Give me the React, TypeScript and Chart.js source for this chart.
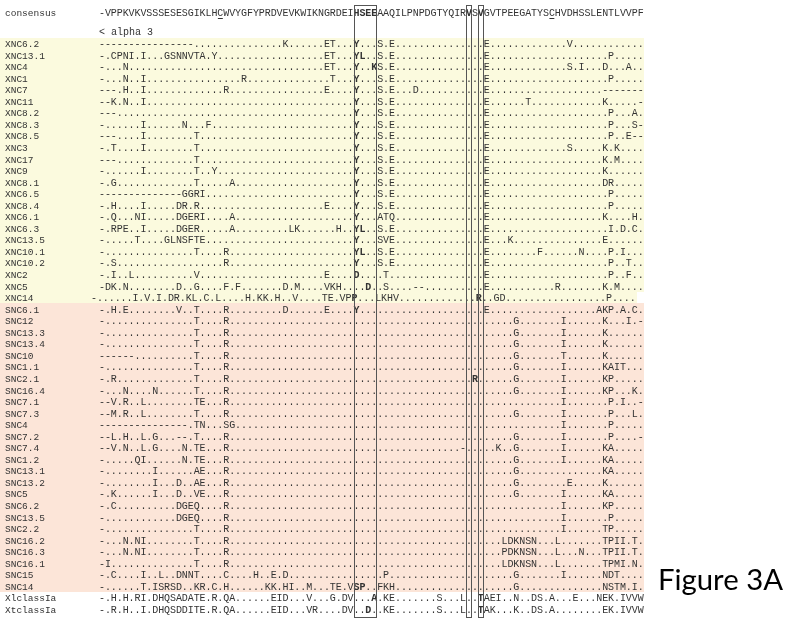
import React, { useEffect, useRef } from 'react';
import { Chart, registerables } from 'chart.js';

Chart.register(...registerables);

// ---------- data ----------
const CONSENSUS = '-VPPKVKVSSSESESGIKLHCWVYGFYPRDVEVKWIKNGRDEIHSEEAAQILPNPDGTYQIRVSVGVTPEEGATYSCHVDHSSLENTLVVPF';
const CONSENSUS_LABEL = 'consensus';
const HELIX_NOTE = '< alpha 3';
const FIGURE_TITLE = 'Figure 3A';
const SEQ_LEN = 92;

// sparse specs: "column:text" ; every other cell is "."
const XNC_NAMES = ['XNC6.2', 'XNC13.1', 'XNC4', 'XNC1', 'XNC7', 'XNC11', 'XNC8.2', 'XNC8.3', 'XNC8.5', 'XNC3', 'XNC17', 'XNC9', 'XNC8.1', 'XNC6.5', 'XNC8.4', 'XNC6.1', 'XNC6.3', 'XNC13.5', 'XNC10.1', 'XNC10.2', 'XNC2', 'XNC5', 'XNC14'];
const XNC_SEQS = [
  '0:---------------- 31:K 38:ET 43:Y 47:S.E 65:E 79:V',
  '0:-.CPNI.I...GSNNVTA.Y 38:ET 43:YL 47:S.E 65:E 86:P',
  '0:-...N 38:ET 43:Y..KS.E 65:E 79:S.I...D...A',
  '0:-...N..I 24:R 39:T 43:Y 47:S.E 65:E 86:P',
  '0:---.H..I 21:R 38:E 43:Y 47:S.E...D 65:E 85:-------',
  '0:--K.N..I 43:Y 47:S.E 65:E 72:T 85:K 91:-',
  '0:--- 43:Y 47:S.E 65:E 86:P...A',
  '0:-......I......N 18:F 43:Y 47:S.E 65:E 86:P...S-',
  '0:---....I 16:T 43:Y 47:S.E 65:E 86:P..E--',
  '0:-.T....I 16:T 43:Y 47:S.E 65:E 79:S 85:K.K',
  '0:--- 16:T 43:Y 47:S.E 65:E 85:K.M',
  '0:-......I 16:T..Y 43:Y 47:S.E 65:E 85:K',
  '0:-.G 16:T 22:A 43:Y 47:S.E 65:E 85:DR',
  '0:-------------- 14:GGRI 43:Y 47:S.E 65:E 86:P',
  '0:-.H....I.....DR.R 38:E 43:Y 47:S.E 65:E 86:P',
  '0:-.Q...NI.....DGERI 22:A 43:Y 47:ATQ 65:E 85:K 90:H',
  '0:-.RPE..I.....DGER 22:A 32:LK 40:H 43:YL 47:S.E 65:E 86:I.D.C',
  '0:-.....T....GLNSFTE 43:Y 47:SVE 65:E 69:K 85:E',
  '0:- 16:T 21:R 43:YL 47:S.E 65:E 74:F 81:N 86:P.I',
  '0:-.S 21:R 43:Y 47:S.E 65:E 86:P..T',
  '0:-.I..L 16:V 38:E 43:D 48:T 65:E 86:P..F',
  '0:-DK.N 13:D 16:G 21:F.F 31:D.M 38:VKH 45:D 48:S 53:-- 65:E 77:R 85:K.M',
  '0:-......I.V.I.DR.KL.C.L 26:H.KK.H..V 39:TE.VPP 48:LKHV 65:R 68:GD 87:P',
];

const SNC_NAMES = ['SNC6.1', 'SNC12', 'SNC13.3', 'SNC13.4', 'SNC10', 'SNC1.1', 'SNC2.1', 'SNC16.4', 'SNC7.1', 'SNC7.3', 'SNC4', 'SNC7.2', 'SNC7.4', 'SNC1.2', 'SNC13.1', 'SNC13.2', 'SNC5', 'SNC6.2', 'SNC13.5', 'SNC2.2', 'SNC16.2', 'SNC16.3', 'SNC16.1', 'SNC15', 'SNC14'];
const SNC_SEQS = [
  '0:-.H.E........V..T....R 31:D 38:E 43:Y 65:E 84:AKP.A.C',
  '0:- 16:T 21:R 70:G 78:I 85:K...I.-',
  '0:- 16:T 21:R 70:G 78:I 85:K',
  '0:- 16:T 21:R 70:G 78:I 85:K',
  '0:------ 16:T 21:R 70:G 78:T 85:K',
  '0:- 16:T 21:R 70:G 78:I 85:KAIT',
  '0:-.R 16:T 21:R 63:R 70:G 78:I 85:KP',
  '0:-...N....N 16:T 21:R 70:G 78:I 85:KP...K',
  '0:--V.R..L 16:TE 21:R 78:I 86:P.I..-',
  '0:--M.R..L 16:T 21:R 70:G 78:I 86:P...L',
  '0:--------------- 16:TN...SG 78:I 86:P',
  '0:--L.H..L.G...--.T 21:R 70:G 78:I 86:P 91:-',
  '0:--V.N..L.G....N.TE 21:R 61:- 67:K 70:G 78:I 85:KA',
  '0:-.....QI......N.TE 21:R 70:G 78:I 85:KA',
  '0:-........I......AE 21:R 70:G 85:KA',
  '0:-........I...D..AE 21:R 70:G 79:E 85:K',
  '0:-.K......I...D..VE 21:R 70:G 78:I 85:KA',
  '0:-.C..........DGEQ 21:R 78:I 85:KP',
  '0:- 13:DGEQ 21:R 78:I 86:P',
  '0:- 16:T 21:R 78:I 85:TP',
  '0:-...N.NI 16:T 21:R 68:LDKNSN...L 85:TPII.T',
  '0:-...N.NI 16:T 21:R 68:PDKNSN...L...N 85:TPII.T',
  '0:-I 16:T 21:R 68:LDKNSN...L 85:TPMI.N',
  '0:-.C....I..L..DNNT....C....H..E.D 48:P 70:G 78:I 85:NDT',
  '0:-......T.ISRSD..KR.C.H......KK.HI..M...TE.VSP..FKH 70:G 85:NSTM.I',
];

const CLASS1_NAMES = ['XlclassIa', 'XtclassIa'];
const CLASS1_SEQS = [
  '0:-.H.H.RI.DHQSADATE.R.QA......EID...V...G.DV...A.KE.......S 61:L..TAEI..N..DS.A...E...NEK.IVVW',
  '0:-.R.H..I.DHQSDDITE.R.QA......EID...VR....DV..D..KE.......S 61:L..TAK...K..DS.A 85:EK.IVVW',
];

// XNC14 is printed slightly left of the alignment grid in the source figure
const ROW_SHIFT: Record<string, number> = { XNC14: -1.35 };
const BOLD_COLS = [43, 44, 45, 46, 62, 63, 64];
const CONSENSUS_BOLD = [43, 44, 45, 46, 62, 64];
const CONSENSUS_UNDERLINE = [20, 76];
const BOXES = [[43, 47], [62, 63], [64, 65]];

// ---------- layout ----------
const W = 800;
const H = 618;
const COL0_PX = 99;
const COL_W = 5.92;
const ROW0_PX = 43.5;
const ROW_H = 11.55;
const X_MIN = -COL0_PX / COL_W;
const X_MAX = X_MIN + W / COL_W;
const Y_MIN = -ROW0_PX / ROW_H;
const Y_MAX = Y_MIN + H / ROW_H;
const CONSENSUS_ROW = -2.65;
const NOTE_ROW = -1;
const BAND_RIGHT = 92.05;
const BAND_RIGHT_SHORT = 90.9;
const BOX_TOP = -3.33;
const BOX_BOTTOM = 49.65;
const YELLOW = 'rgb(251,250,222)';
const PINK = 'rgb(252,229,216)';
const INK = '#333333';
const MONO = '"Liberation Mono", "DejaVu Sans Mono", monospace';

function expand(spec: string): string {
  const arr = new Array(SEQ_LEN).fill('.');
  spec.split(' ').forEach((part) => {
    const k = part.indexOf(':');
    const col = parseInt(part.slice(0, k), 10);
    const txt = part.slice(k + 1);
    for (let i = 0; i < txt.length; i++) arr[col + i] = txt[i];
  });
  return arr.join('');
}

type Row = { name: string; seq: string; color: string; shift: number };

const ROWS: Row[] = [
  ...XNC_NAMES.map((n, i) => ({ name: n, seq: expand(XNC_SEQS[i]), color: YELLOW, shift: ROW_SHIFT[n] || 0 })),
  ...SNC_NAMES.map((n, i) => ({ name: n, seq: expand(SNC_SEQS[i]), color: PINK, shift: ROW_SHIFT[n] || 0 })),
  ...CLASS1_NAMES.map((n, i) => ({ name: n, seq: expand(CLASS1_SEQS[i]), color: '', shift: 0 })),
];

const alignPlugin = {
  id: 'alignmentDrawing',
  beforeDraw(chart: any) {
    const ctx = chart.ctx as CanvasRenderingContext2D;
    const xs = chart.scales.x;
    const ys = chart.scales.y;
    ctx.save();
    ROWS.forEach((row, r) => {
      if (!row.color) return;
      const top = Math.round(ys.getPixelForValue(r - 0.5));
      const bot = Math.round(ys.getPixelForValue(r + 0.5));
      const right = Math.round(xs.getPixelForValue(row.shift ? BAND_RIGHT_SHORT : BAND_RIGHT));
      ctx.fillStyle = row.color;
      ctx.fillRect(0, top, right, bot - top);
    });
    ctx.restore();
  },
  afterDraw(chart: any) {
    const ctx = chart.ctx as CanvasRenderingContext2D;
    const xs = chart.scales.x;
    const ys = chart.scales.y;
    const labelX = 5;
    const base = 3.5;
    ctx.save();
    ctx.fillStyle = INK;
    ctx.textAlign = 'left';
    ctx.textBaseline = 'alphabetic';

    // consensus
    const cy = ys.getPixelForValue(CONSENSUS_ROW);
    ctx.font = `9.5px ${MONO}`;
    ctx.fillText(CONSENSUS_LABEL, labelX, cy + base);
    ctx.textAlign = 'center';
    for (let j = 0; j < CONSENSUS.length; j++) {
      const bold = CONSENSUS_BOLD.includes(j);
      ctx.font = `${bold ? 'bold ' : ''}10px ${MONO}`;
      ctx.fillText(CONSENSUS[j], xs.getPixelForValue(j + 0.5), cy + base);
    }
    ctx.strokeStyle = INK;
    ctx.lineWidth = 1;
    CONSENSUS_UNDERLINE.forEach((j) => {
      const l = xs.getPixelForValue(j) + 0.5;
      const rr = xs.getPixelForValue(j + 1) - 0.5;
      const uy = Math.round(cy + base + 1.5) + 0.5;
      ctx.beginPath();
      ctx.moveTo(l, uy);
      ctx.lineTo(rr, uy);
      ctx.stroke();
    });

    // alpha note
    ctx.textAlign = 'left';
    ctx.font = `10px ${MONO}`;
    ctx.fillText(HELIX_NOTE, xs.getPixelForValue(0), ys.getPixelForValue(NOTE_ROW) + base);

    // rows
    ROWS.forEach((row, r) => {
      const y = ys.getPixelForValue(r) + base;
      ctx.textAlign = 'left';
      ctx.font = `9.5px ${MONO}`;
      ctx.fillText(row.name, labelX, y);
      ctx.textAlign = 'center';
      for (let j = 0; j < row.seq.length; j++) {
        const ch = row.seq[j];
        const col = Math.round(j + row.shift);
        const bold = /[A-Z]/.test(ch) && BOLD_COLS.includes(col);
        ctx.font = `${bold ? 'bold ' : ''}10px ${MONO}`;
        ctx.fillText(ch, xs.getPixelForValue(j + row.shift + 0.5), y);
      }
    });

    // boxes
    ctx.strokeStyle = '#555555';
    ctx.lineWidth = 1;
    BOXES.forEach(([a, b]) => {
      const l = Math.round(xs.getPixelForValue(a)) + 0.5;
      const rr = Math.round(xs.getPixelForValue(b)) - 0.5;
      const t = Math.round(ys.getPixelForValue(BOX_TOP)) + 0.5;
      const bt = Math.round(ys.getPixelForValue(BOX_BOTTOM)) + 0.5;
      ctx.strokeRect(l, t, rr - l, bt - t);
    });

    // figure title
    ctx.textAlign = 'left';
    ctx.fillStyle = '#000000';
    ctx.font = '28px Lato, "Open Sans", sans-serif';
    const m = ctx.measureText(FIGURE_TITLE).width;
    const size = 28 * 125 / m;
    ctx.font = `${size.toFixed(2)}px Lato, "Open Sans", sans-serif`;
    ctx.fillText(FIGURE_TITLE, 658, 590);
    ctx.restore();
  },
};

export default function App() {
  const ref = useRef<HTMLCanvasElement>(null);
  useEffect(() => {
    const chart = new Chart(ref.current as HTMLCanvasElement, {
      type: 'scatter',
      data: { datasets: [{ data: [], pointRadius: 0 }] },
      options: {
        animation: false,
        responsive: false,
        devicePixelRatio: 1,
        events: [],
        layout: { padding: 0 },
        scales: {
          x: { type: 'linear', min: X_MIN, max: X_MAX, display: false },
          y: { type: 'linear', min: Y_MIN, max: Y_MAX, reverse: true, display: false },
        },
        plugins: { legend: { display: false }, tooltip: { enabled: false } },
      },
      plugins: [alignPlugin],
    } as any);
    return () => chart.destroy();
  }, []);
  return (
    <div style={{ position: 'fixed', left: 0, top: 0, width: W, height: H, background: '#ffffff' }}>
      <canvas ref={ref} width={W} height={H} style={{ display: 'block', width: W, height: H }} />
    </div>
  );
}
